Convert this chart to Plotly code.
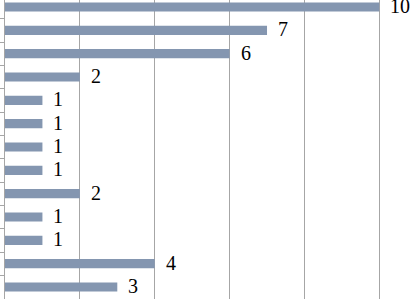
import plotly.graph_objects as go

categories = ["C1", "C2", "C3", "C4", "C5", "C6", "C7", "C8", "C9", "C10", "C11", "C12", "C13"]
values = [10, 7, 6, 2, 1, 1, 1, 1, 2, 1, 1, 4, 3]

fig = go.Figure()
fig.add_trace(go.Bar(
    y=categories, x=values, orientation="h",
    marker=dict(color="#8496B0", line=dict(width=0)),
    width=0.39,
    hoverinfo="skip",
))

for c, v in zip(categories, values):
    fig.add_annotation(x=v, y=c, text=str(v), showarrow=False,
                       xanchor="left", yanchor="middle", xshift=9, yshift=1,
                       font=dict(family="Liberation Serif, Times New Roman, serif", size=20, color="#000000"))

fig.update_layout(
    width=413, height=299,
    margin=dict(l=5, r=0, t=0, b=0),
    paper_bgcolor="white", plot_bgcolor="white",
    showlegend=False,
)
fig.update_xaxes(range=[0, 10.9], tickvals=[0, 2, 4, 6, 8, 10], showticklabels=False,
                 showgrid=True, gridcolor="#A6A6A6", gridwidth=1, zeroline=False,
                 showline=False, ticks="")
fig.update_yaxes(type="category", categoryorder="array", categoryarray=categories,
                 range=[12.514, -0.3], autorange=False, showticklabels=False,
                 showgrid=False, zeroline=False, showline=True, linecolor="#A6A6A6",
                 linewidth=1, ticks="outside", ticklen=5, tickcolor="#A6A6A6",
                 tickson="boundaries")

fig.write_html("out.html", config={"displayModeBar": False, "staticPlot": True},
               post_script="document.body.style.margin='0';")
